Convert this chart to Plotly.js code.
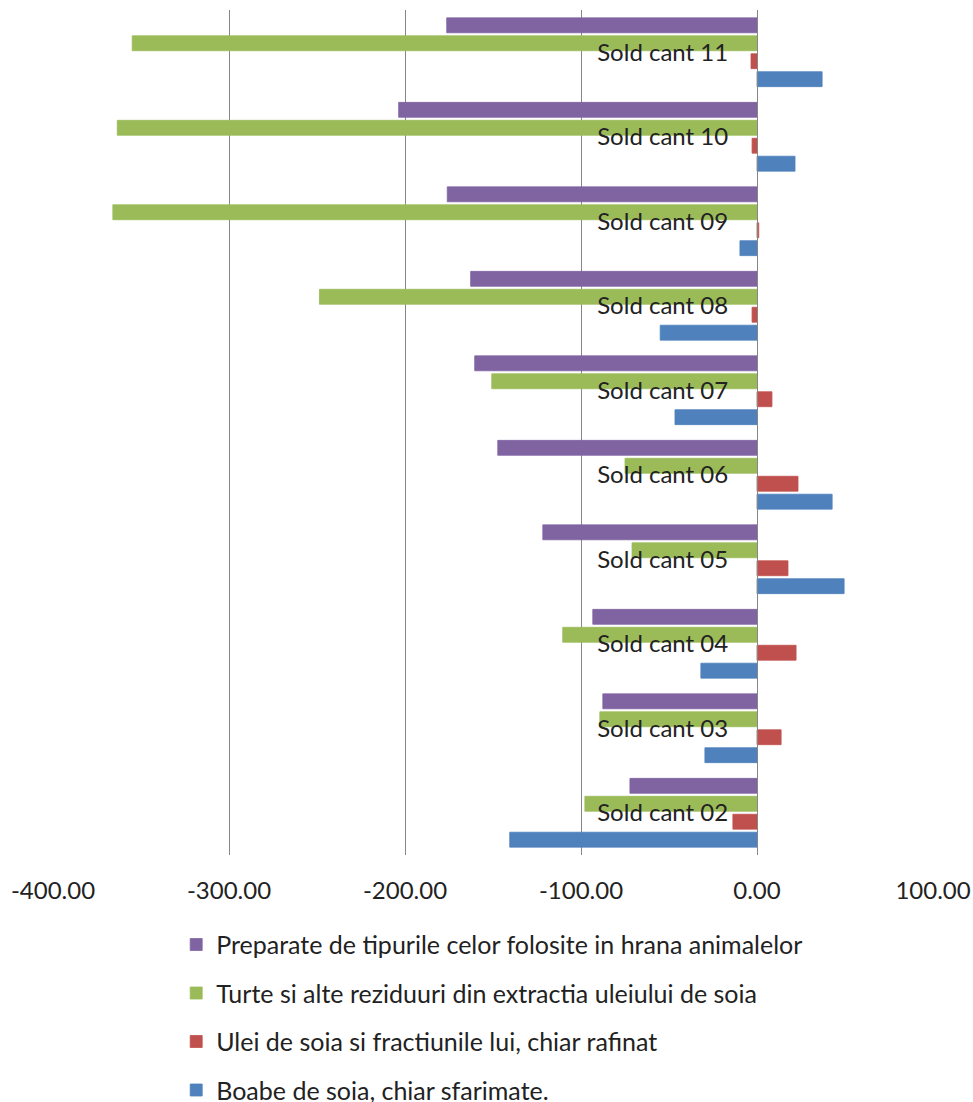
<!DOCTYPE html>
<html>
<head>
<meta charset="utf-8">
<script src="https://cdn.plot.ly/plotly-3.0.1.min.js"></script>
<style>html,body{margin:0;padding:0;background:#fff;}#chart{width:973px;height:1102px;}</style>
</head>
<body>
<div id="chart"></div>
<script>
const categories = ["Sold cant 02","Sold cant 03","Sold cant 04","Sold cant 05","Sold cant 06","Sold cant 07","Sold cant 08","Sold cant 09","Sold cant 10","Sold cant 11"];
const boabe     = [-140.5, -29.6, -31.9, 49.5, 42.7, -46.6, -55.0, -9.7, 21.6, 37.0];
const ulei      = [-13.7, 13.7, 22.2, 17.6, 23.3, 8.5, -2.8, 1.0, -2.8, -3.4];
const turte     = [-97.8, -89.3, -110.4, -71.0, -75.0, -150.7, -248.6, -366.0, -363.5, -355.0];
const preparate = [-72.2, -87.6, -93.3, -121.7, -147.3, -160.4, -162.7, -176.0, -203.6, -176.3];
const seriesNames = [
  "Boabe de soia, chiar sfarimate.",
  "Ulei de soia si fractiunile lui, chiar rafinat",
  "Turte si alte reziduuri din extractia uleiului de soia",
  "Preparate de tipurile celor folosite in hrana animalelor"
];
const seriesColors = ["#4F81BD", "#C0504D", "#9BBB59", "#8064A2"];
const xTickVals = [-400, -300, -200, -100, 0, 100];
const xTickText = ["-400.00", "-300.00", "-200.00", "-100.00", "0.00", "100.00"];

const FONT = "Lato, 'Open Sans', sans-serif";
const seriesValues = [boabe, ulei, turte, preparate];
const traces = seriesValues.map((vals, i) => ({
  type: "bar",
  orientation: "h",
  name: seriesNames[i],
  legendgroup: "g" + i,
  legendrank: 1000 - i,
  y: categories,
  x: vals,
  marker: {color: seriesColors[i], line: {width: 0.8, color: seriesColors[i]}},
  hoverinfo: "x+y+name"
}));

const layout = {
  width: 973,
  height: 1102,
  margin: {l: 53, r: 40, t: 10, b: 247, autoexpand: false},
  paper_bgcolor: "#fff",
  plot_bgcolor: "#fff",
  barmode: "group",
  bargap: 0.15,
  bargroupgap: 0.17,
  font: {family: FONT, size: 24, color: "#222"},
  xaxis: {
    range: [-400, 100],
    tickvals: xTickVals,
    ticktext: xTickText,
    showgrid: true,
    gridcolor: "#868686",
    gridwidth: 1,
    zeroline: false,
    showline: false,
    ticks: "",
    ticklabelstandoff: 19,
    tickfont: {family: FONT, size: 24, color: "#222"},
    automargin: false,
    fixedrange: true
  },
  yaxis: {
    type: "category",
    categoryorder: "array",
    categoryarray: categories,
    anchor: "free",
    position: 0.8,
    showline: true,
    linecolor: "#868686",
    linewidth: 1,
    showgrid: false,
    ticks: "",
    ticklabelstandoff: 24,
    tickfont: {family: FONT, size: 24, color: "#222"},
    automargin: false,
    fixedrange: true
  },
  showlegend: true,
  legend: {
    orientation: "v",
    traceorder: "grouped",
    tracegroupgap: 13,
    x: 0.14,
    xanchor: "left",
    y: -0.079,
    yanchor: "top",
    font: {family: FONT, size: 25, color: "#222"},
    itemwidth: 30,
    bgcolor: "rgba(0,0,0,0)"
  }
};

Plotly.newPlot("chart", traces, layout, {displayModeBar: false, staticPlot: true});
</script>
</body>
</html>
